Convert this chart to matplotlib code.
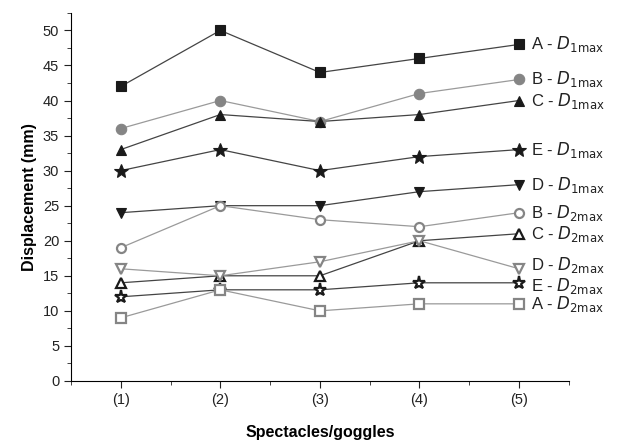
import matplotlib.pyplot as plt
from matplotlib.ticker import MultipleLocator

plt.rcParams['font.family'] = ['Liberation Sans', 'DejaVu Sans']

x = [1, 2, 3, 4, 5]
x_labels = ["(1)", "(2)", "(3)", "(4)", "(5)"]

a_d1 = [42, 50, 44, 46, 48]
b_d1 = [36, 40, 37, 41, 43]
c_d1 = [33, 38, 37, 38, 40]
e_d1 = [30, 33, 30, 32, 33]
d_d1 = [24, 25, 25, 27, 28]
b_d2 = [19, 25, 23, 22, 24]
c_d2 = [14, 15, 15, 20, 21]
d_d2 = [16, 15, 17, 20, 16]
e_d2 = [12, 13, 13, 14, 14]
a_d2 = [9, 13, 10, 11, 11]

black = '#1a1a1a'
gray = '#858585'

# (values, name, subscript, marker, color, filled, label nudge)
series = [
    (a_d1, "A", "1max", 's', black, True, 0),
    (b_d1, "B", "1max", 'o', gray, True, 0),
    (c_d1, "C", "1max", '^', black, True, 0),
    (e_d1, "E", "1max", '*', black, True, 0),
    (d_d1, "D", "1max", 'v', black, True, 0),
    (b_d2, "B", "2max", 'o', gray, False, 0),
    (c_d2, "C", "2max", '^', black, False, 0),
    (d_d2, "D", "2max", 'v', gray, False, 0.5),
    (e_d2, "E", "2max", '*', black, False, -0.4),
    (a_d2, "A", "2max", 's', gray, False, 0),
]

fig = plt.figure(figsize=(6.17, 4.44), dpi=100)
ax = fig.add_axes([0.115, 0.142, 0.807, 0.829])

for vals, name, sub, mk, col, filled, nudge in series:
    ms = 10.5 if mk == '*' else 7.5
    if not filled:
        ms = ms - 1
    line_col = '#444444' if col == black else '#9a9a9a'
    ax.plot(x, vals, color=line_col, lw=0.9, zorder=2)
    ax.plot(x, vals, linestyle='none', marker=mk, markersize=ms,
            markerfacecolor=col if filled else 'white',
            markeredgecolor=col, markeredgewidth=0.8 if filled else 1.6, zorder=3)
    ax.text(5.12, vals[-1] + nudge, name + r" - $\mathit{D}_{\mathrm{" + sub + "}}$",
            fontsize=12, va='center', ha='left', color='#222222')

ax.set_xlim(0.5, 5.5)
ax.set_ylim(0, 52.5)
ax.set_xticks(x)
ax.set_xticklabels(x_labels)
ax.xaxis.set_minor_locator(MultipleLocator(0.5))
ax.yaxis.set_major_locator(MultipleLocator(5))
ax.yaxis.set_minor_locator(MultipleLocator(2.5))
ax.tick_params(which='major', direction='out', length=5, labelsize=10.5, colors='#222222')
ax.tick_params(which='minor', direction='out', length=3, colors='#222222')

ax.spines['top'].set_visible(False)
ax.spines['right'].set_visible(False)

ax.set_xlabel("Spectacles/goggles", fontsize=11.5, fontweight='bold', labelpad=13)
ax.set_ylabel("Displacement (mm)", fontsize=11.5, fontweight='bold', labelpad=4)

fig.savefig("out.png", dpi=100)
